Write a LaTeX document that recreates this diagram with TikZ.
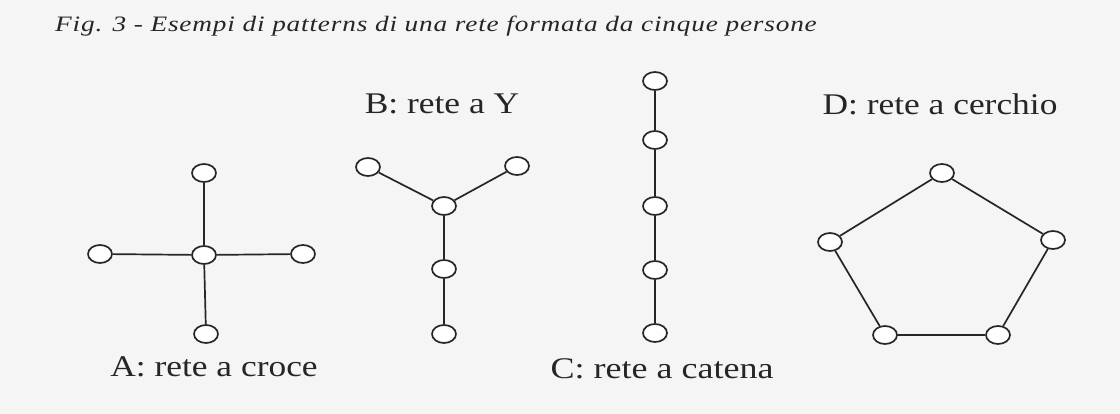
\documentclass[tikz,border=0pt]{standalone}
\usepackage{fontspec}
\setmainfont{Liberation Serif}
\usetikzlibrary{shapes.geometric}
\tikzset{
  pers/.style={ellipse, draw=black!85, line width=1.7pt, fill=white, minimum width=24pt, minimum height=18pt, inner sep=0pt},
  link/.style={draw=black!85, line width=1.7pt},
  lab/.style={font=\fontsize{30}{34}\selectfont, text=black!85, inner sep=0pt},
  ttl/.style={font=\fontsize{22}{26}\selectfont\itshape\addfontfeatures{LetterSpace=3}, text=black!85, inner sep=0pt, anchor=base west}
}
\begin{document}
\begin{tikzpicture}[x=1pt,y=-1pt]
\fill[black!4] (0,0) rectangle (1120,414);
\useasboundingbox (0,0) rectangle (1120,414);
\node[ttl] (title) at (55,32) {\scalebox{1.24}[1]{Fig. 3 - Esempi di patterns di una rete formata da cinque persone}};
% A
\node[pers] (a0) at (204,255) {};
\node[pers] (a1) at (204,173) {};
\node[pers] (a2) at (206,334) {};
\node[pers] (a3) at (100,254) {};
\node[pers] (a4) at (303,254) {};
\draw[link] (a0) -- (a1); \draw[link] (a0) -- (a2);
\draw[link] (a0) -- (a3); \draw[link] (a0) -- (a4);
\node[lab] (la) at (214,367) {\scalebox{1.18}[1]{A: rete a croce}};
% B
\node[pers] (b0) at (444,206) {};
\node[pers] (b1) at (368,167) {};
\node[pers] (b2) at (517,166) {};
\node[pers] (b3) at (444,269) {};
\node[pers] (b4) at (444,334) {};
\draw[link] (b0) -- (b1); \draw[link] (b0) -- (b2);
\draw[link] (b0) -- (b3); \draw[link] (b3) -- (b4);
\node[lab] (lb) at (442,104) {\scalebox{1.18}[1]{B: rete a Y}};
% C
\node[pers] (c1) at (655,81) {};
\node[pers] (c2) at (655,140) {};
\node[pers] (c3) at (655,206) {};
\node[pers] (c4) at (655,270) {};
\node[pers] (c5) at (655,333) {};
\draw[link] (c1) -- (c2); \draw[link] (c2) -- (c3);
\draw[link] (c3) -- (c4); \draw[link] (c4) -- (c5);
\node[lab] (lc) at (662,369) {\scalebox{1.2}[1]{C: rete a catena}};
% D
\node[pers] (d1) at (942,173) {};
\node[pers] (d2) at (1053,240) {};
\node[pers] (d3) at (998,335) {};
\node[pers] (d4) at (885,335) {};
\node[pers] (d5) at (830,242) {};
\draw[link] (d1) -- (d2); \draw[link] (d2) -- (d3);
\draw[link] (d3) -- (d4); \draw[link] (d4) -- (d5); \draw[link] (d5) -- (d1);
\node[lab] (ld) at (940,104) {\scalebox{1.18}[1]{D: rete a cerchio}};
\end{tikzpicture}
\end{document}
